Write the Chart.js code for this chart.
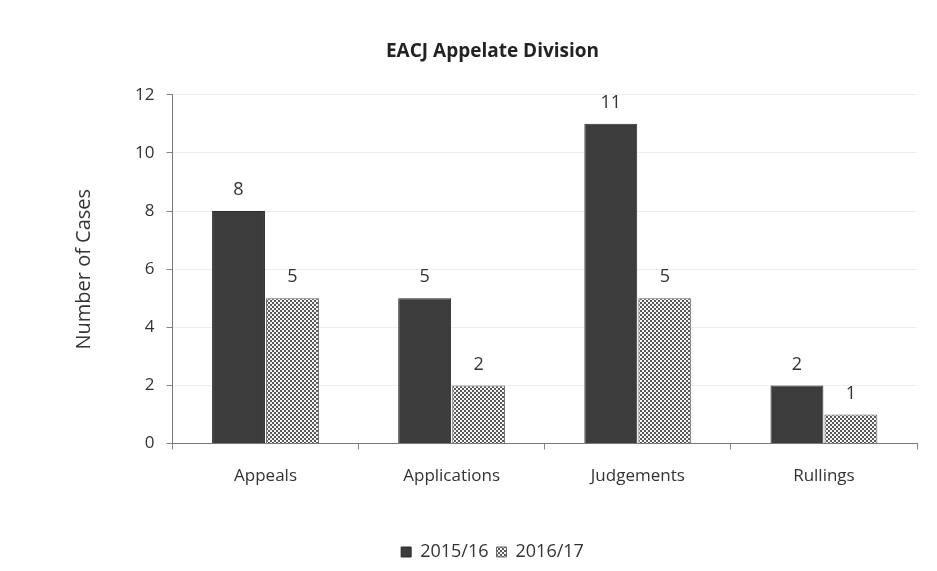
<!DOCTYPE html>
<html>
<head>
<meta charset="utf-8">
<script src="https://cdn.jsdelivr.net/npm/chart.js@4"></script>
<style>
  html, body { margin: 0; padding: 0; background: #fff; }
  #wrap { width: 937px; height: 571px; position: relative; }
</style>
</head>
<body>
<div id="wrap"><canvas id="eacjChart"></canvas></div>
<script>
// Data
const categories = ['Appeals', 'Applications', 'Judgements', 'Rullings'];
const seriesNames = ['2015/16', '2016/17'];
const cases1516 = [8, 5, 11, 2];
const cases1617 = [5, 2, 5, 1];
const yTicks = [0, 2, 4, 6, 8, 10, 12];

// checker pattern for 2016/17 bars
function makePattern() {
    const c = document.createElement('canvas');
    c.width = 4;
    c.height = 4;
    const g = c.getContext('2d');
    g.fillStyle = '#5a5a5a';
    g.fillRect(0, 0, 4, 4);
    g.fillStyle = '#f4f4f4';
    g.fillRect(0, 0, 2, 2);
    g.fillRect(2, 2, 2, 2);
    return g.createPattern(c, 'repeat');
}

// labels above bars
const valueLabels = {
    id: 'valueLabels',
    afterDatasetsDraw(chart) {
        const ctx = chart.ctx;
        ctx.save();
        ctx.font = '18px "Open Sans", sans-serif';
        ctx.fillStyle = '#333';
        ctx.textAlign = 'center';
        ctx.textBaseline = 'bottom';
        chart.data.datasets.forEach((ds, i) => {
            chart.getDatasetMeta(i).data.forEach((bar, j) => {
                ctx.fillText(ds.data[j], bar.x, bar.y - 12);
            });
        });
        ctx.restore();
    }
};

const config = {
    type: 'bar',
    data: {
        labels: categories,
        datasets: [{
            label: seriesNames[0],
            data: cases1516,
            backgroundColor: '#3c3c3c',
            borderColor: '#2a2a2a',
            borderWidth: 1
        }, {
            label: seriesNames[1],
            data: cases1617,
            backgroundColor: makePattern(),
            borderColor: '#666',
            borderWidth: 1
        }]
    },
    options: {
        responsive: true,
        maintainAspectRatio: false,
        animation: false,
        layout: { padding: { left: 68, right: 20, top: 8, bottom: 0 } },
        datasets: {
            bar: { categoryPercentage: 0.58, barPercentage: 0.98 }
        },
        plugins: {
            title: {
                display: true,
                text: 'EACJ Appelate Division',
                font: { family: '"Open Sans", sans-serif', size: 19, weight: 'bold' },
                color: '#222',
                padding: { top: 32, bottom: 32 }
            },
            legend: {
                position: 'bottom',
                labels: {
                    font: { family: '"Open Sans", sans-serif', size: 18 },
                    color: '#333',
                    boxWidth: 10,
                    boxHeight: 10,
                    padding: 8
                }
            },
            tooltip: { enabled: false }
        },
        scales: {
            x: {
                afterFit: axis => { axis.height += 33; },
                grid: {
                    display: true,
                    drawOnChartArea: false,
                    offset: true,
                    tickLength: 6,
                    color: '#888'
                },
                border: { color: '#777' },
                ticks: {
                    font: { family: '"Open Sans", sans-serif', size: 17 },
                    color: '#333',
                    padding: 16
                }
            },
            y: {
                min: 0,
                max: 12,
                afterBuildTicks: axis => { axis.ticks = yTicks.map(v => ({ value: v })); },
                grid: {
                    color: '#eeeeee',
                    tickColor: '#888',
                    tickLength: 6
                },
                border: { color: '#777' },
                ticks: {
                    font: { family: '"Open Sans", sans-serif', size: 17 },
                    color: '#333',
                    padding: 12
                },
                title: {
                    display: true,
                    text: 'Number of Cases',
                    font: { family: '"Open Sans", sans-serif', size: 20 },
                    color: '#333',
                    padding: { bottom: 27 }
                }
            }
        }
    },
    plugins: [valueLabels]
};

const eacjCtx = document.getElementById('eacjChart').getContext('2d');
new Chart(eacjCtx, config);
</script>
</body>
</html>
